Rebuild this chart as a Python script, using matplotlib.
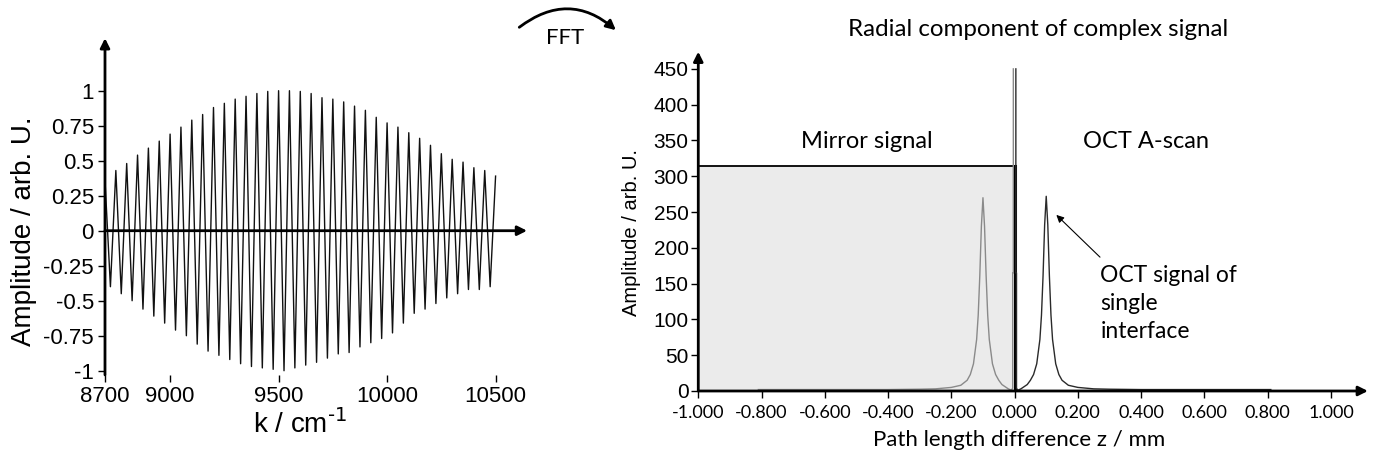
import numpy as np
from matplotlib import pyplot as plt
from matplotlib.patches import FancyArrowPatch

plt.rcParams['font.family'] = ['Liberation Sans', 'DejaVu Sans']
plt.rcParams['mathtext.default'] = 'regular'

# Left panel: interferogram, fringe extrema ----------------------------------------------------------------------------
k_start, k_end = 8700, 10500
k_first_trough = 8725
fringe_period = 50
start_amp, end_amp = 0.36, 0.39
peak_amps = [0.43, 0.48, 0.54, 0.59, 0.64, 0.69, 0.74, 0.79, 0.83, 0.88,
             0.91, 0.94, 0.96, 0.98, 0.995, 1.0, 1.0, 0.995, 0.98, 0.95,
             0.94, 0.92, 0.89, 0.86, 0.81, 0.77, 0.74, 0.70, 0.66, 0.61,
             0.55, 0.51, 0.49, 0.45, 0.43]
trough_amps = [-0.40, -0.45, -0.50, -0.56, -0.61, -0.66, -0.71, -0.75, -0.81, -0.86,
               -0.89, -0.92, -0.95, -0.97, -0.98, -0.99, -1.0, -0.98, -0.96, -0.94,
               -0.91, -0.88, -0.87, -0.83, -0.80, -0.77, -0.73, -0.66, -0.59, -0.56,
               -0.52, -0.48, -0.45, -0.42, -0.42, -0.40]
k_ticks = [8700, 9000, 9500, 10000, 10500]
amp_ticks = [-1, -0.75, -0.5, -0.25, 0, 0.25, 0.5, 0.75, 1]
amp_tick_labels = ['-1', '-0.75', '-0.5', '-0.25', '0', '0.25', '0.5', '0.75', '1']

# Right panel: A-scan ----------------------------------------------------------------------------------------------------
z_oct = [0.004, 0.004, 0.006, 0.006, 0.01, 0.02, 0.03, 0.04, 0.05, 0.06, 0.07, 0.08, 0.085, 0.09, 0.095,
         0.1, 0.105, 0.11, 0.115, 0.12, 0.13, 0.14, 0.15, 0.17, 0.2, 0.25, 0.3, 0.4, 0.6, 0.81]
amp_oct = [450, 165, 165, 4, 1, 3, 6, 9, 15, 23, 38, 72, 106, 161, 232,
           272, 232, 161, 106, 72, 38, 23, 15, 8, 5, 3, 2.5, 2, 2, 2]
z_mirror = [-0.004, -0.004, -0.006, -0.006, -0.01, -0.02, -0.03, -0.04, -0.05, -0.06, -0.07, -0.08, -0.085, -0.09,
            -0.095, -0.1, -0.105, -0.11, -0.115, -0.12, -0.13, -0.14, -0.15, -0.17, -0.2, -0.25, -0.3, -0.4, -0.6,
            -0.81]
amp_mirror = [450, 165, 165, 4, 1, 3, 6, 9, 15, 23, 38, 72, 106, 161,
              230, 270, 230, 161, 106, 72, 38, 23, 15, 8, 5, 3, 2.5, 2, 2, 2]
mirror_span = [-1.0, 0.0]
mirror_level = 315
z_ticks = [-1.0, -0.8, -0.6, -0.4, -0.2, 0.0, 0.2, 0.4, 0.6, 0.8, 1.0]
a_ticks = [0, 50, 100, 150, 200, 250, 300, 350, 400, 450]

CALIBRI = ['Lato', 'DejaVu Sans']


def axis_arrow(ax, xy, xytext, coords):
    ax.annotate('', xy=xy, xycoords=coords, xytext=xytext, textcoords=coords,
                arrowprops=dict(arrowstyle='-|>', color='black', lw=2, mutation_scale=14,
                                shrinkA=0, shrinkB=0), annotation_clip=False, zorder=5)


def render_interferogram(ax):
    # troughs every fringe_period, peaks halfway between
    k = [k_start]
    v = [start_amp]
    for i, t in enumerate(trough_amps):
        k.append(k_first_trough + fringe_period * i)
        v.append(t)
        if i < len(peak_amps):
            k.append(k_first_trough + fringe_period * i + fringe_period / 2)
            v.append(peak_amps[i])
    k.append(k_end)
    v.append(end_amp)
    ax.plot(k, v, color='#111111', lw=1.0)

    ax.set_xlim(8700, 10645)
    ax.set_ylim(-1.03, 1.375)
    for s in ax.spines.values():
        s.set_visible(False)
    axis_arrow(ax, (1, 0), (0, 0), ('axes fraction', 'data'))
    axis_arrow(ax, (0, 1), (0, 0), 'axes fraction')

    ax.set_xticks(k_ticks)
    ax.set_yticks(amp_ticks)
    ax.set_yticklabels(amp_tick_labels)
    ax.tick_params(axis='both', direction='out', length=5, width=1, pad=3, labelsize=16)
    ax.set_xlabel(r'k / cm$^{\text{-1}}$', fontsize=20)
    ax.xaxis.set_label_coords(0.462, -0.146)
    ax.xaxis.label.set_va('center')
    ax.set_ylabel('Amplitude / arb. U.', fontsize=20, va='center')
    ax.yaxis.set_label_coords(-0.192, 0.427)


def render_ascan(ax):
    ax.fill_between(mirror_span, 0, mirror_level, color='#ebebeb', lw=0, zorder=0)
    ax.plot(mirror_span, [mirror_level, mirror_level], color='black', lw=1.3)
    ax.plot([0, 0], [0, mirror_level], color='black', lw=2.2)
    ax.plot(z_mirror, amp_mirror, color='#8a8a8a', lw=1.0)
    ax.plot(z_oct, amp_oct, color='#2a2a2a', lw=1.0)

    ax.set_xlim(-1.0, 1.117)
    ax.set_ylim(0, 474)
    for s in ax.spines.values():
        s.set_visible(False)
    axis_arrow(ax, (1, 0), (0, 0), 'axes fraction')
    axis_arrow(ax, (0, 1), (0, 0), 'axes fraction')

    ax.set_xticks(z_ticks)
    ax.set_xticklabels([f'{z:.3f}' for z in z_ticks], fontfamily=CALIBRI, fontsize=13)
    ax.set_yticks(a_ticks)
    ax.tick_params(axis='x', direction='out', length=5, width=1, pad=5)
    ax.tick_params(axis='y', direction='out', length=5, width=1, pad=2, labelsize=15)
    ax.set_xlabel('Path length difference z / mm', fontfamily=CALIBRI, fontsize=16)
    ax.xaxis.set_label_coords(0.479, -0.144)
    ax.xaxis.label.set_va('center')
    ax.set_ylabel('Amplitude / arb. U.', fontsize=14.5, va='center')
    ax.yaxis.set_label_coords(-0.099, 0.466)

    ax.text(-0.468, 348, 'Mirror signal', ha='center', va='center', fontfamily=CALIBRI, fontsize=17)
    ax.text(0.416, 348, 'OCT A-scan', ha='center', va='center', fontfamily=CALIBRI, fontsize=17)
    ax.text(0.271, 122, 'OCT signal of\nsingle\ninterface', ha='left', va='center',
            fontfamily=CALIBRI, fontsize=16.5, linespacing=1.4)
    ax.annotate('', xy=(0.132, 246), xytext=(0.27, 187),
                arrowprops=dict(arrowstyle='-|>', color='black', lw=0.8, mutation_scale=11,
                                shrinkA=0, shrinkB=0))


fig = plt.figure(figsize=(13.77, 4.58), dpi=100)
ax1 = fig.add_axes([0.07625, 0.1814, 0.3065, 0.7352])
ax2 = fig.add_axes([0.5071, 0.1463, 0.4863, 0.7408])
render_interferogram(ax1)
render_ascan(ax2)

fig.text(0.7542, 0.9345, 'Radial component of complex signal', ha='center', va='center',
         fontfamily=CALIBRI, fontsize=17.4)
fig.text(0.4103, 0.917, 'FFT', ha='center', va='center', fontfamily=CALIBRI, fontsize=16)
fig.patches.append(FancyArrowPatch(
    (0.3755, 0.9367), (0.4488, 0.9301), transform=fig.transFigure, figure=fig,
    connectionstyle='arc3,rad=-0.42', arrowstyle='-|>', mutation_scale=14, lw=2, color='black'))

fig.savefig('out.png', dpi=100)
